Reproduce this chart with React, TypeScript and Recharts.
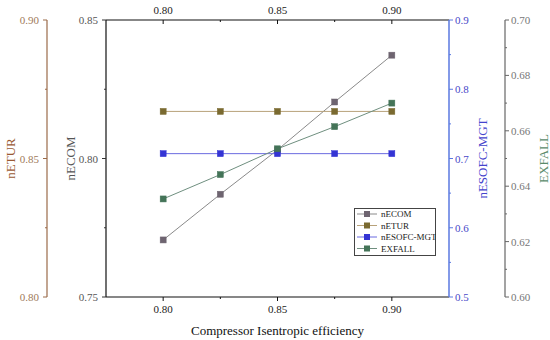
import React from 'react';
import { ComposedChart, Line, XAxis, YAxis, Legend } from 'recharts';

const efficiency = [0.8, 0.825, 0.85, 0.875, 0.9];
const nECOM = [0.7706, 0.7871, 0.8031, 0.8204, 0.8373];
const nETUR = [0.867, 0.867, 0.867, 0.867, 0.867];
const nESOFC = [0.707, 0.707, 0.707, 0.707, 0.707];
const EXFALL = [0.6354, 0.6442, 0.6535, 0.6615, 0.670];

const xTicks = [0.8, 0.825, 0.85, 0.875, 0.9];
const xMajor = [0.8, 0.85, 0.9];
const ecomTicks = [0.75, 0.775, 0.8, 0.825, 0.85];
const ecomMajor = [0.75, 0.8, 0.85];
const eturTicks = [0.8, 0.825, 0.85, 0.875, 0.9];
const eturMajor = [0.8, 0.85, 0.9];
const esofcTicks = [0.5, 0.55, 0.6, 0.65, 0.7, 0.75, 0.8, 0.85, 0.9];
const esofcMajor = [0.5, 0.6, 0.7, 0.8, 0.9];
const exTicks = [0.6, 0.61, 0.62, 0.63, 0.64, 0.65, 0.66, 0.67, 0.68, 0.69, 0.7];
const exMajor = [0.6, 0.62, 0.64, 0.66, 0.68, 0.7];

const data = efficiency.map((x, i) => ({
  x,
  nECOM: nECOM[i],
  nETUR: nETUR[i],
  nESOFC: nESOFC[i],
  EXFALL: EXFALL[i],
}));

const series = [
  { key: 'nECOM', name: 'nECOM', axis: 'ecom', line: '#8a8a8a', marker: '#6e6470' },
  { key: 'nETUR', name: 'nETUR', axis: 'etur', line: '#b8a27a', marker: '#7a6a30' },
  { key: 'nESOFC', name: 'nESOFC-MGT', axis: 'esofc', line: '#6a6ae0', marker: '#3434d4' },
  { key: 'EXFALL', name: 'EXFALL', axis: 'exfall', line: '#6f8f7f', marker: '#447458' },
];

const FONT = '"Liberation Serif", "Times New Roman", Times, serif';
const tStyle = (size: number) => ({ fontFamily: FONT, fontSize: size, fontWeight: 400 as const });

const isMajor = (v: number, majors: number[]) => majors.some((m) => Math.abs(m - v) < 1e-6);

function makeTick(orient: string, majors: number[], color: string, lineColor: string, digits: number, inward = false) {
  return (props: any) => {
    const { x, y, payload } = props;
    const v = payload.value;
    const major = isMajor(v, majors);
    const len = major ? 4 : 2;
    const label = major ? Number(v).toFixed(digits) : '';
    let line, text;
    if (orient === 'bottom') {
      line = <line x1={x} y1={y} x2={x} y2={y + len} stroke={lineColor} />;
      text = <text x={x} y={y + 12} textAnchor="middle" dominantBaseline="central" fill={color} style={tStyle(11)}>{label}</text>;
    } else if (orient === 'top') {
      const d = inward ? len : -len;
      line = <line x1={x} y1={y} x2={x} y2={y + d} stroke={lineColor} />;
      text = <text x={x} y={y - 10} textAnchor="middle" dominantBaseline="central" fill={color} style={tStyle(11)}>{label}</text>;
    } else if (orient === 'left') {
      line = <line x1={x} y1={y} x2={x - len} y2={y} stroke={lineColor} />;
      text = <text x={x - 8} y={y} textAnchor="end" dominantBaseline="central" fill={color} style={tStyle(11)}>{label}</text>;
    } else {
      line = <line x1={x} y1={y} x2={x + len} y2={y} stroke={lineColor} />;
      text = <text x={x + 6} y={y} textAnchor="start" dominantBaseline="central" fill={color} style={tStyle(11)}>{label}</text>;
    }
    return (
      <g>
        {line}
        {text}
      </g>
    );
  };
}

function vTitle(value: string, dx: number, color: string) {
  return (props: any) => {
    const vb = props.viewBox || {};
    const cx = vb.x + dx;
    const cy = vb.y + vb.height / 2;
    return (
      <text
        x={cx}
        y={cy}
        transform={`rotate(-90, ${cx}, ${cy})`}
        textAnchor="middle"
        dominantBaseline="central"
        fill={color}
        style={tStyle(13)}
      >
        {value}
      </text>
    );
  };
}

function xTitle(value: string) {
  return (props: any) => {
    const vb = props.viewBox || {};
    return (
      <text x={vb.x + vb.width / 2} y={vb.y + 33} textAnchor="middle" dominantBaseline="central" fill="#111" style={tStyle(13)}>
        {value}
      </text>
    );
  };
}

const Square = (color: string) => (props: any) => {
  const { cx, cy } = props;
  if (cx == null || cy == null) return <g />;
  return <rect x={cx - 3} y={cy - 3} width={6} height={6} fill={color} stroke={color} strokeWidth={0.5} />;
};

const LegendBox = () => (
  <svg width={82} height={48} style={{ display: 'block' }}>
    <rect x={0.5} y={0.5} width={81} height={47} fill="#fff" stroke="#444" strokeWidth={1} />
    {series.map((s, i) => {
      const y = 6 + i * 11.5;
      return (
        <g key={s.key}>
          <line x1={3} y1={y} x2={23} y2={y} stroke={s.line} strokeWidth={1} />
          <rect x={10} y={y - 3} width={6} height={6} fill={s.marker} />
          <text x={27} y={y} dominantBaseline="central" fill="#222" style={tStyle(9)}>
            {s.name}
          </text>
        </g>
      );
    })}
  </svg>
);

export default function App() {
  return (
    <div style={{ position: 'absolute', left: 0, top: 0, width: 550, height: 340, background: '#fff', fontFamily: FONT }}>
      <ComposedChart width={550} height={340} data={data} margin={{ top: 0, right: 0, bottom: 0, left: 0 }} style={{ fontFamily: FONT }}>
        <XAxis
          xAxisId="bottom"
          dataKey="x"
          type="number"
          orientation="bottom"
          domain={[0.775, 0.925]}
          allowDataOverflow
          ticks={xTicks}
          interval={0}
          height={43}
          tickSize={0}
          tickMargin={0}
          axisLine={{ stroke: '#111', strokeWidth: 1.2 }}
          tickLine={false}
          tick={makeTick('bottom', xMajor, '#222', '#111', 2)}
          label={{ content: xTitle('Compressor Isentropic efficiency') }}
        />
        <XAxis
          xAxisId="top"
          dataKey="x"
          type="number"
          orientation="top"
          domain={[0.775, 0.925]}
          allowDataOverflow
          ticks={xTicks}
          interval={0}
          height={20}
          tickSize={0}
          tickMargin={0}
          axisLine={{ stroke: '#111', strokeWidth: 1.2 }}
          tickLine={false}
          tick={makeTick('top', xMajor, '#222', '#111', 2, true)}
        />
        <YAxis
          yAxisId="ecom"
          orientation="left"
          type="number"
          domain={[0.75, 0.85]}
          allowDataOverflow
          ticks={ecomTicks}
          interval={0}
          width={59}
          tickSize={0}
          tickMargin={0}
          axisLine={{ stroke: '#111', strokeWidth: 1.2 }}
          tickLine={false}
          tick={makeTick('left', ecomMajor, '#555', '#333', 2)}
          label={{ content: vTitle('nECOM', 23, '#555') }}
        />
        <YAxis
          yAxisId="etur"
          orientation="left"
          type="number"
          domain={[0.8, 0.9]}
          allowDataOverflow
          ticks={eturTicks}
          interval={0}
          width={47}
          tickSize={0}
          tickMargin={0}
          axisLine={{ stroke: '#9a6a48', strokeWidth: 1.2 }}
          tickLine={false}
          tick={makeTick('left', eturMajor, '#a07a5a', '#9a6a48', 2)}
          label={{ content: vTitle('nETUR', 10, '#9a5a34') }}
        />
        <YAxis
          yAxisId="esofc"
          orientation="right"
          type="number"
          domain={[0.5, 0.9]}
          allowDataOverflow
          ticks={esofcTicks}
          interval={0}
          width={56}
          tickSize={0}
          tickMargin={0}
          axisLine={{ stroke: '#5a78e0', strokeWidth: 1.5 }}
          tickLine={false}
          tick={makeTick('right', esofcMajor, '#4848c8', '#5a78e0', 1)}
          label={{ content: vTitle('nESOFC-MGT', 33, '#4444cc') }}
        />
        <YAxis
          yAxisId="exfall"
          orientation="right"
          type="number"
          domain={[0.6, 0.7]}
          allowDataOverflow
          ticks={exTicks}
          interval={0}
          width={45}
          tickSize={0}
          tickMargin={0}
          axisLine={{ stroke: '#666', strokeWidth: 1.2 }}
          tickLine={false}
          tick={makeTick('right', exMajor, '#777', '#666', 2)}
          label={{ content: vTitle('EXFALL', 38, '#5a8a6a') }}
        />
        {series.map((s) => (
          <Line
            key={s.key}
            xAxisId="bottom"
            yAxisId={s.axis}
            dataKey={s.key}
            name={s.name}
            stroke={s.line}
            strokeWidth={1}
            dot={Square(s.marker)}
            activeDot={false}
            isAnimationActive={false}
          />
        ))}
        <Legend
          layout="vertical"
          align="center"
          verticalAlign="middle"
          content={() => <LegendBox />}
          wrapperStyle={{ left: 354, top: 208, width: 82, height: 48 }}
        />
      </ComposedChart>
    </div>
  );
}
